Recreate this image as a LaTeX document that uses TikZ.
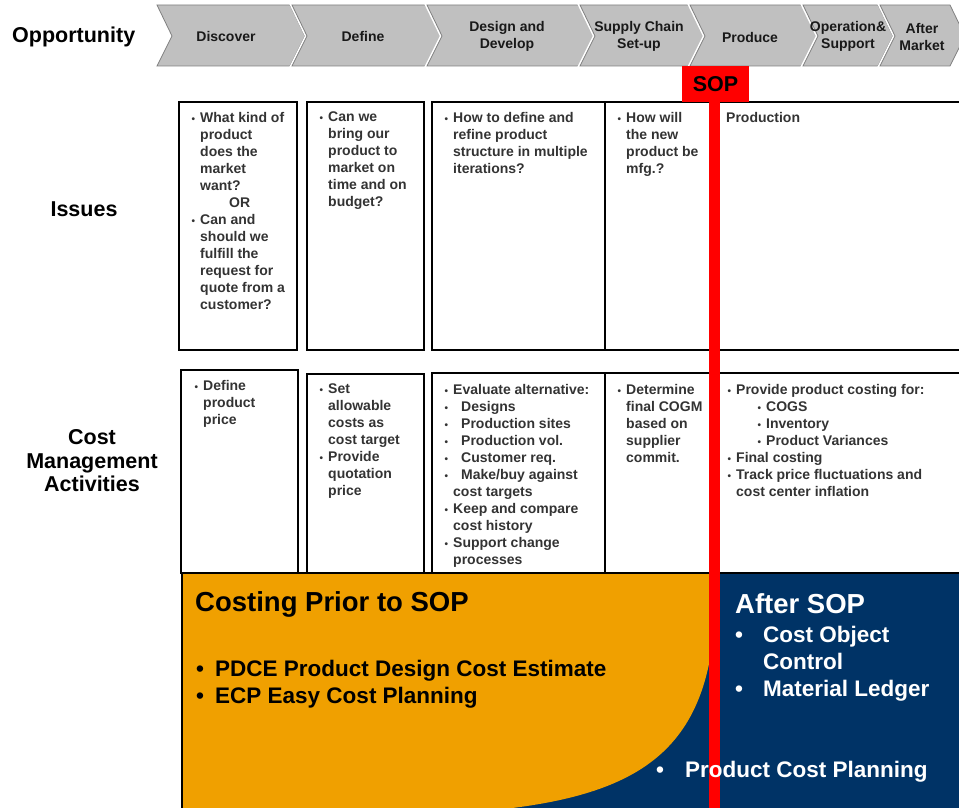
\documentclass[tikz,border=0pt]{standalone}
\usepackage{fontspec}
\setmainfont{Liberation Sans}
\definecolor{chev}{HTML}{C0C0C0}
\definecolor{chevline}{HTML}{808080}
\definecolor{txt}{HTML}{333333}
\definecolor{org}{HTML}{F0A000}
\definecolor{navy}{HTML}{003366}
\definecolor{sopred}{HTML}{FF0000}
\newcommand{\bu}{\makebox[0pt][r]{\fontsize{10}{10}\selectfont\textbullet\hspace{5pt}}}
\tikzset{
 chevron/.style={fill=chev, draw=chevline, line width=0.8pt},
 chevgap/.style={fill=white, draw=white, line width=4pt},
 chevtext/.style={font=\fontsize{14}{17}\selectfont\bfseries, text=black!90, align=center, inner sep=0pt},
 frame/.style={draw=black, line width=1.1pt},
 boxtext/.style={anchor=north west, inner sep=0pt, align=left, font=\fontsize{14}{17}\selectfont\bfseries, text=txt},
 rowlabel/.style={font=\fontsize{21.5}{23.5}\selectfont\bfseries, align=center, inner sep=0pt},
 heading/.style={font=\fontsize{27.5}{30}\selectfont\bfseries, anchor=west, inner sep=0pt},
 bigbullet/.style={font=\fontsize{22.5}{27}\selectfont\bfseries, anchor=north west, inner sep=0pt, align=left},
}
\begin{document}
\begin{tikzpicture}[x=1pt,y=-1pt]
\useasboundingbox (0,0) rectangle (959,808);

% chevrons
\foreach \L/\R in {157/290, 292/428, 427/580, 580/690, 690/802, 803/878, 880/950}{
  \path[chevgap] (\L,5) -- (\R,5) -- ({\R+15},36) -- (\R,66) -- (\L,66) -- ({\L+15},36) -- cycle;
  \path[chevron] (\L,5) -- (\R,5) -- ({\R+15},36) -- (\R,66) -- (\L,66) -- ({\L+15},36) -- cycle;
}
\node[chevtext] (c1) at (226,36) {Discover};
\node[chevtext] (c2) at (363,36) {Define};
\node[chevtext] (c3) at (507,36.5) {Design and\\Develop};
\node[chevtext] (c4) at (639,36.5) {Supply Chain\\Set-up};
\node[chevtext] (c5) at (750,37) {Produce};
\node[chevtext] (c6) at (848,36.5) {Operation\&\\Support};
\node[chevtext] (c7) at (922,36.5) {After\\Market};

% row labels
\node[rowlabel, anchor=west] (lopp) at (12,37) {Opportunity};
\node[rowlabel] (liss) at (84,209) {Issues};
\node[rowlabel] (lcost) at (92,461) {Cost\\Management\\Activities};

% issue boxes
\draw[frame] (179,102) rectangle (297,350);
\draw[frame] (307,102) rectangle (424,350);
\draw[frame] (432,102) rectangle (965,350);
\draw[frame] (605,102) -- (605,350);

% cost boxes
\draw[frame] (181,370) rectangle (298,573);
\draw[frame] (307,374) rectangle (424,573);
\draw[frame] (432,373) rectangle (965,573);
\draw[frame] (605,373) -- (605,573);

% issue texts
\node[boxtext] (i1) at (200,112) {\bu What kind of\\product\\does the\\market\\want?\\\hspace*{29pt}OR\\\bu Can and\\should we\\fulfill the\\request for\\quote from a\\customer?};
\node[boxtext] (i2) at (328,112) {\bu Can we\\bring our\\product to\\market on\\time and on\\budget?};
\node[boxtext] (i3) at (453,112) {\bu How to define and\\refine product\\structure in multiple\\iterations?};
\node[boxtext] (i4) at (626,112) {\bu How will\\the new\\product be\\mfg.?};
\node[boxtext] (i5) at (726,112) {Production};

% cost texts
\node[boxtext] (k1) at (203,380) {\bu Define\\product\\price};
\node[boxtext] (k2) at (328,384) {\bu Set\\allowable\\costs as\\cost target\\\bu Provide\\quotation\\price};
\node[boxtext] (k3) at (453,384) {\bu Evaluate alternative:\\\bu\hspace*{8pt}Designs\\\bu\hspace*{8pt}Production sites\\\bu\hspace*{8pt}Production vol.\\\bu\hspace*{8pt}Customer req.\\\bu\hspace*{8pt}Make/buy against\\cost targets\\\bu Keep and compare\\cost history\\\bu Support change\\processes};
\node[boxtext] (k4) at (626,384) {\bu Determine\\final COGM\\based on\\supplier\\commit.};
\node[boxtext] (k5) at (736,384) {\bu Provide product costing for:\\\hspace*{30pt}\bu COGS\\\hspace*{30pt}\bu Inventory\\\hspace*{30pt}\bu Product Variances\\\bu Final costing\\\bu Track price fluctuations and\\cost center inflation};

% bottom area
\fill[navy] (182,573) rectangle (965,810);
\fill[org] (182,573) -- (715,573) -- (715,615) .. controls (708,750) and (640,795) .. (495,810) -- (182,810) -- cycle;
\draw[frame] (182,573) -- (965,573);
\draw[frame] (182,573) -- (182,810);

% SOP
\node[fill=sopred, minimum width=67pt, minimum height=36pt, inner sep=0pt,
      font=\fontsize{21.5}{24}\selectfont\bfseries, text=black] (sop) at (715.5,84) {SOP};
\fill[sopred] (709,101) rectangle (720,810);

% bottom texts
\node[heading, text=black] (h1) at (195,604) {Costing Prior to SOP};
\node[bigbullet, text=black] (b1) at (196,660) {\makebox[19pt][l]{•}PDCE Product Design Cost Estimate\\\makebox[19pt][l]{•}ECP Easy Cost Planning};
\node[heading, text=white] (h2) at (735,604) {After SOP};
\node[bigbullet, text=white] (b2) at (735,626) {\makebox[28pt][l]{•}Cost Object\\\hspace*{28pt}Control\\\makebox[28pt][l]{•}Material Ledger};
\node[bigbullet, text=white] (b3) at (656,761) {\makebox[29pt][l]{•}Product Cost Planning};
\end{tikzpicture}
\end{document}
